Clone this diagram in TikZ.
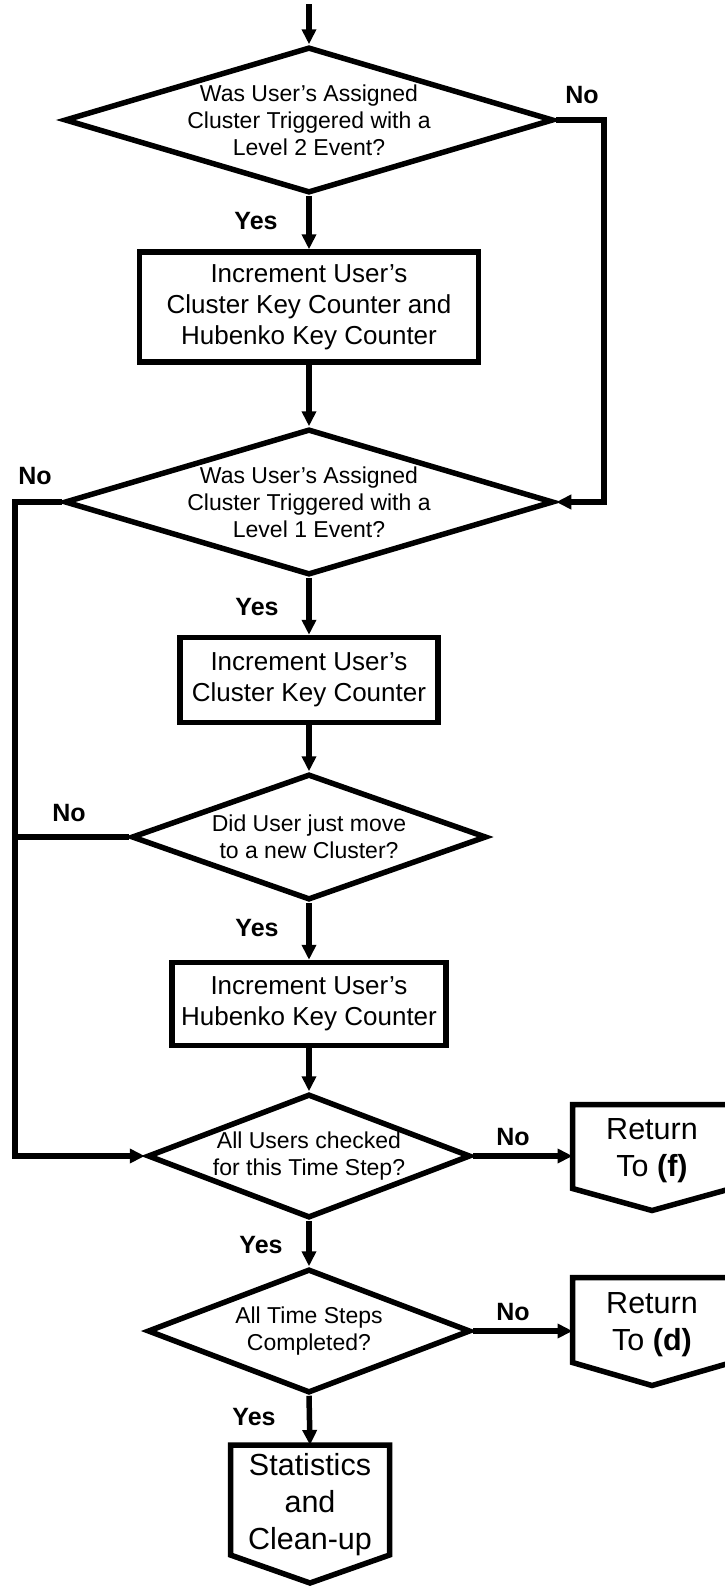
\documentclass[tikz,border=0pt]{standalone}
\usepackage{fontspec}
\setmainfont{Liberation Sans}
\usetikzlibrary{shapes.geometric,arrows.meta}

\tikzset{
  flow/.style={line width=5.5pt},
  arr/.style={flow, -{Triangle[length=15pt,width=14pt]}},
  decision/.style={diamond, draw, flow, inner sep=0pt},
  process/.style={rectangle, draw, flow, inner sep=0pt, align=center,
    font=\fontsize{26pt}{31pt}\selectfont},
  dtxt/.style={align=center, inner sep=0pt, font=\fontsize{23pt}{27pt}\selectfont},
  bigtxt/.style={align=center, inner sep=0pt, font=\fontsize{30.5pt}{37pt}\selectfont},
  lbl/.style={inner sep=0pt, font=\fontsize{25pt}{30pt}\selectfont\bfseries},
}

% off-page connector: name, centre, width, height, tip depth
\newcommand{\offpage}[5]{
    \node[flow, outer sep=0pt, inner sep=0pt, minimum width=#3, minimum height=#4] (#1) at #2 {};
    \draw[flow] (#1.north west) -- (#1.north east) -- ([yshift=#5]#1.south east)
      -- (#1.south) -- ([yshift=#5]#1.south west) -- cycle;
}

\begin{document}
\begin{tikzpicture}[x=1pt,y=1pt]
  \useasboundingbox (0,0) rectangle (725,-1588);

  \coordinate (start) at (309,-4);
  \coordinate (rgt) at (604,-120);
  \coordinate (lft) at (15,-502);

  \node[decision, minimum width=489pt, minimum height=146pt] (d1) at (309,-120) {};
  \node[dtxt] (d1txt) at (d1) {Was User's Assigned\\Cluster Triggered with a\\Level 2 Event?};

  \node[process, minimum width=339pt, minimum height=110pt] (b1) at (309,-307)
    {Increment User's\\Cluster Key Counter and\\Hubenko Key Counter};

  \node[decision, minimum width=489pt, minimum height=146pt] (d2) at (309,-502) {};
  \node[dtxt] (d2txt) at (d2) {Was User's Assigned\\Cluster Triggered with a\\Level 1 Event?};

  \node[process, minimum width=258pt, minimum height=85pt] (b2) at (309,-680)
    {Increment User's\\Cluster Key Counter};

  \node[decision, minimum width=355pt, minimum height=126pt] (d3) at (309,-837) {};
  \node[dtxt] (d3txt) at (d3) {Did User just move\\to a new Cluster?};

  \node[process, minimum width=274pt, minimum height=83pt] (b3) at (309,-1004)
    {Increment User's\\Hubenko Key Counter};

  \node[decision, minimum width=323pt, minimum height=124pt] (d4) at (309,-1156) {};
  \node[dtxt] (d4txt) at (d4) {All Users checked\\for this Time Step?};

  \node[decision, minimum width=323pt, minimum height=124pt] (d5) at (309,-1331) {};
  \node[dtxt] (d5txt) at (d5) {All Time Steps\\Completed?};

  \offpage{r1}{(652,-1157.5)}{159pt}{106pt}{22pt}
  \node[bigtxt] (r1txt) at (652,-1151) {Return\\To \textbf{(f)}};
  \offpage{r2}{(652,-1331.5)}{159pt}{108pt}{23pt}
  \node[bigtxt] (r2txt) at (652,-1325) {Return\\To \textbf{(d)}};
  \offpage{stat}{(310,-1514)}{159pt}{138pt}{28pt}
  \node[bigtxt] (stattxt) at (310,-1505) {Statistics\\and\\Clean-up};

  % yes / no
  \node[lbl] (no1) at (582,-95) {No};
  \node[lbl] (yes1) at (256,-221) {Yes};
  \node[lbl] (no2) at (35,-476) {No};
  \node[lbl] (yes2) at (257,-607) {Yes};
  \node[lbl] (no3) at (69,-813) {No};
  \node[lbl] (yes3) at (257,-928) {Yes};
  \node[lbl] (no4) at (513,-1137) {No};
  \node[lbl] (yes4) at (261,-1245) {Yes};
  \node[lbl] (no5) at (513,-1312) {No};
  \node[lbl] (yes5) at (254,-1417) {Yes};

  \draw[arr] (start) -- (d1.north);
  \draw[arr] (d1.south) -- (b1.north);
  \draw[arr] (d1.east) -- (rgt) |- (d2.east);
  \draw[arr] (b1.south) -- (d2.north);
  \draw[arr] (d2.south) -- (b2.north);
  \draw[arr] (d2.west) -- (lft) |- (d4.west);
  \draw[arr] (b2.south) -- (d3.north);
  \draw[flow] (d3.west) -- (d3.west -| lft);
  \draw[arr] (d3.south) -- (b3.north);
  \draw[arr] (b3.south) -- (d4.north);
  \draw[arr] (d4.east) -- (d4.east -| r1.west);
  \draw[arr] (d4.south) -- (d5.north);
  \draw[arr] (d5.east) -- (d5.east -| r2.west);
  \draw[arr] (d5.south) -- (stat.north);

\end{tikzpicture}
\end{document}
